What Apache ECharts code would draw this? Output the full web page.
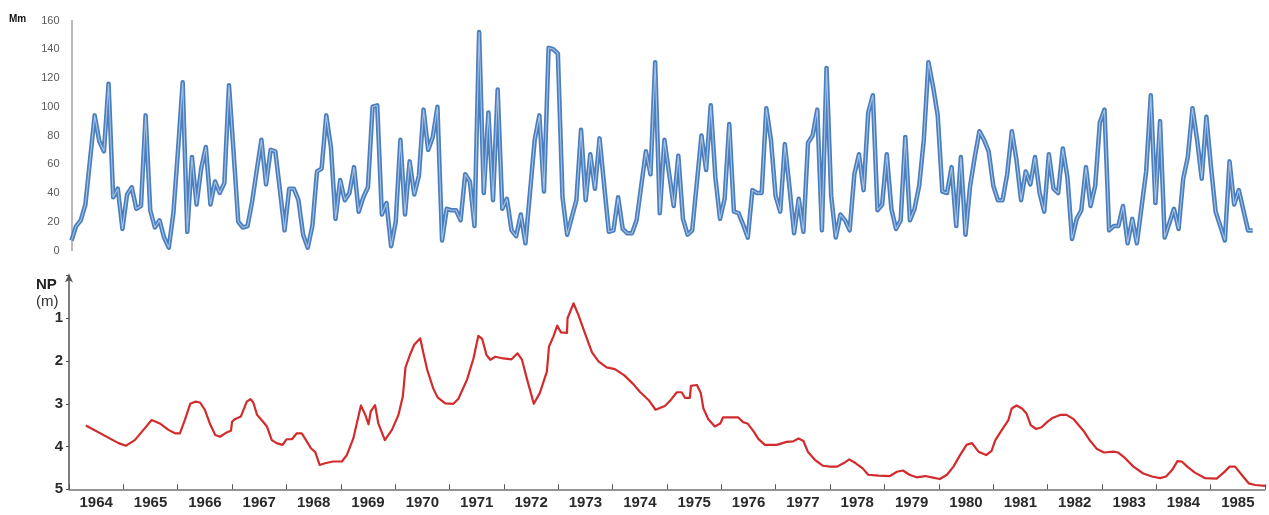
<!DOCTYPE html>
<html>
<head>
<meta charset="utf-8">
<script src="https://cdn.jsdelivr.net/npm/echarts@6/dist/echarts.min.js"></script>
<style>
  html, body { margin: 0; padding: 0; background: #fff; }
  #chart { width: 1269px; height: 515px; }
</style>
</head>
<body>
<div id="chart"></div>
<script>
// monthly rainfall (Mm), left to right
var rainMm = [
  7, 17, 21, 32, 63, 94, 76, 69, 116, 37,
  43, 15, 39, 44, 29, 31, 94, 28, 16, 21,
  9, 2, 26, 70, 117, 13, 65, 32, 57, 72, 32,
  48, 40, 47, 115, 68, 20, 16, 17, 34, 56,
  77, 46, 70, 69, 42, 14, 43, 43, 35, 11,
  2, 17, 55, 57, 94,
  72, 22, 49, 35, 40, 58, 27, 37, 44, 100,
  101, 25, 33, 3, 20, 77, 25, 62, 39, 52,
  98, 70, 79, 100, 7, 29, 28, 28, 21, 53,
  48, 17, 152, 40, 96, 35, 112, 29, 36, 14,
  10, 25, 5, 41, 77, 94, 41, 141, 140, 137,
  37, 11, 23, 35, 84, 35, 67, 43, 78, 45,
  13, 14, 37, 15, 12, 12, 21, 45, 69, 53,
  131, 26, 77, 54, 31, 66, 22, 11, 14, 47,
  80, 56, 101, 51, 22, 36, 88, 27, 26, 18,
  9, 42, 40, 40, 99, 77, 38, 27, 74, 44,
  12, 36, 13, 75, 80, 98, 14, 127, 38, 9,
  25, 21, 14, 53, 67, 42, 96, 108, 28, 32,
  67, 29, 15, 21, 79, 21, 29, 45, 77, 131,
  114, 94, 41, 40, 58, 17, 65, 11, 45, 65,
  83, 77, 69, 45, 35, 35, 53, 83, 63, 35,
  55, 46, 65, 40, 27, 67, 43, 40, 71, 51,
  8, 22, 28, 58, 31, 45, 89, 98, 14, 17,
  17, 31, 5, 22, 5, 30, 55, 108, 33, 90,
  9, 19, 29, 15, 50, 65, 99, 77, 50, 93,
  58, 27, 17, 7, 62, 32, 42, 28, 14, 14
];
var rainTicks = [0, 20, 40, 60, 80, 100, 120, 140, 160];

// piezometric level NP (m below surface), lower panel
var npYear = [
  1964.31, 1964.91, 1965.05, 1965.21, 1965.37, 1965.52, 1965.67, 1965.83, 1965.95, 1966.04,
  1966.13, 1966.23, 1966.32, 1966.41, 1966.50, 1966.59, 1966.69, 1966.78, 1966.90, 1966.98,
  1967.00, 1967.05, 1967.16, 1967.27, 1967.34, 1967.39, 1967.46, 1967.57, 1967.64, 1967.73,
  1967.82, 1967.93, 1968.00, 1968.10, 1968.19, 1968.28, 1968.36, 1968.45, 1968.53, 1968.61,
  1968.71, 1968.86, 1969.02, 1969.11, 1969.23, 1969.37, 1969.45, 1969.51, 1969.55, 1969.63,
  1969.69, 1969.81, 1969.94, 1970.06, 1970.14, 1970.19, 1970.27, 1970.35, 1970.46, 1970.52,
  1970.59, 1970.70, 1970.78, 1970.92, 1971.07, 1971.16, 1971.32, 1971.44, 1971.53, 1971.60,
  1971.68, 1971.75, 1971.84, 1971.99, 1972.14, 1972.25, 1972.33, 1972.42, 1972.55, 1972.66,
  1972.79, 1972.83, 1972.91, 1972.98, 1973.05, 1973.16, 1973.17, 1973.28, 1973.37, 1973.49,
  1973.62, 1973.74, 1973.89, 1974.04, 1974.21, 1974.38, 1974.50, 1974.66, 1974.79, 1974.96,
  1975.07, 1975.18, 1975.27, 1975.33, 1975.42, 1975.44, 1975.55, 1975.62, 1975.67, 1975.76,
  1975.88, 1975.98, 1976.03, 1976.16, 1976.31, 1976.40, 1976.48, 1976.59, 1976.68, 1976.80,
  1977.02, 1977.20, 1977.32, 1977.42, 1977.51, 1977.59, 1977.72, 1977.87, 1978.00, 1978.13,
  1978.26, 1978.35, 1978.46, 1978.60, 1978.70, 1978.89, 1979.10, 1979.23, 1979.34, 1979.46,
  1979.59, 1979.75, 1979.87, 1980.02, 1980.15, 1980.27, 1980.39, 1980.51, 1980.61, 1980.73,
  1980.87, 1980.97, 1981.04, 1981.16, 1981.28, 1981.34, 1981.43, 1981.53, 1981.61, 1981.69,
  1981.79, 1981.89, 1981.99, 1982.08, 1982.23, 1982.35, 1982.48, 1982.66, 1982.78, 1982.91,
  1983.04, 1983.21, 1983.30, 1983.40, 1983.58, 1983.76, 1983.92, 1984.07, 1984.18, 1984.29,
  1984.39, 1984.47, 1984.57, 1984.71, 1984.90, 1985.11, 1985.24, 1985.35, 1985.45, 1985.57,
  1985.70, 1985.82, 1986.00
];
var npDepth = [
  3.51, 3.92, 3.98, 3.85, 3.61, 3.38, 3.46, 3.61, 3.69, 3.69,
  3.38, 3.00, 2.95, 2.97, 3.14, 3.46, 3.73, 3.77, 3.67, 3.63,
  3.42, 3.36, 3.30, 2.95, 2.89, 2.97, 3.26, 3.42, 3.53, 3.85,
  3.92, 3.96, 3.83, 3.83, 3.69, 3.69, 3.85, 4.04, 4.13, 4.43,
  4.39, 4.35, 4.35, 4.20, 3.81, 3.04, 3.26, 3.48, 3.18, 3.03,
  3.46, 3.85, 3.61, 3.26, 2.83, 2.15, 1.86, 1.62, 1.47, 1.82,
  2.21, 2.64, 2.85, 2.99, 3.00, 2.89, 2.44, 1.94, 1.41, 1.48,
  1.86, 1.97, 1.90, 1.94, 1.96, 1.82, 1.96, 2.40, 3.00, 2.75,
  2.25, 1.66, 1.43, 1.17, 1.33, 1.34, 1.00, 0.65, 0.92, 1.35,
  1.80, 2.01, 2.15, 2.19, 2.33, 2.54, 2.72, 2.91, 3.14, 3.05,
  2.91, 2.73, 2.73, 2.86, 2.86, 2.58, 2.56, 2.74, 3.11, 3.36,
  3.53, 3.46, 3.32, 3.32, 3.32, 3.43, 3.46, 3.64, 3.82, 3.96,
  3.96, 3.89, 3.88, 3.81, 3.87, 4.12, 4.31, 4.45, 4.47, 4.47,
  4.38, 4.30, 4.38, 4.51, 4.66, 4.68, 4.69, 4.59, 4.56, 4.66,
  4.72, 4.69, 4.72, 4.76, 4.66, 4.47, 4.20, 3.96, 3.92, 4.12,
  4.20, 4.10, 3.85, 3.61, 3.38, 3.11, 3.04, 3.11, 3.22, 3.50,
  3.59, 3.55, 3.43, 3.34, 3.26, 3.26, 3.36, 3.63, 3.86, 4.06,
  4.14, 4.12, 4.14, 4.24, 4.47, 4.63, 4.70, 4.74, 4.70, 4.55,
  4.34, 4.35, 4.47, 4.61, 4.74, 4.75, 4.61, 4.47, 4.47, 4.66,
  4.86, 4.90, 4.92
];
var years = ['1964', '1965', '1966', '1967', '1968', '1969', '1970', '1971', '1972', '1973', '1974',
  '1975', '1976', '1977', '1978', '1979', '1980', '1981', '1982', '1983', '1984', '1985'];
var npTicks = [1, 2, 3, 4, 5];

var blue = '#4a7fbf';
var red = '#d22b2b';
var font = '"Liberation Sans", Arial, sans-serif';

var myChart = echarts.init(document.getElementById('chart'));
myChart.setOption({
  backgroundColor: '#fff',
  animation: false,
  grid: [
    { left: 71.5, right: 16.3, top: 20.5, bottom: 264.5 },
    { left: 69, right: 4, top: 275.5, bottom: 25.7 }
  ],
  graphic: [
    { type: 'text', left: 9, top: 14, style: { text: 'Mm', font: 'bold 10px ' + font, fill: '#111' } },
    { type: 'text', left: 36, top: 277, style: { text: 'NP', font: 'bold 15px ' + font, fill: '#222' } },
    { type: 'text', left: 36, top: 294, style: { text: '(m)', font: '15px ' + font, fill: '#333' } }
  ],
  xAxis: [
    {
      gridIndex: 0, type: 'category', boundaryGap: false,
      data: rainMm.map(function (v, i) { return i; }),
      show: false
    },
    {
      gridIndex: 1, type: 'value', min: 1964, max: 1986, interval: 1,
      position: 'bottom',
      axisLine: { show: true, onZero: false, lineStyle: { color: '#707070', width: 1.5 } },
      axisTick: { show: true, inside: true, length: 5, lineStyle: { color: '#555', width: 1 } },
      axisLabel: { show: false },
      splitLine: { show: false }
    },
    {
      gridIndex: 1, type: 'category', boundaryGap: true, data: years,
      position: 'bottom',
      axisLine: { show: false, onZero: false },
      axisTick: { show: false },
      axisLabel: { margin: 6, fontFamily: font, fontWeight: 'bold', fontSize: 15, color: '#2a2a2a' }
    }
  ],
  yAxis: [
    {
      gridIndex: 0, type: 'value', min: rainTicks[0], max: rainTicks[rainTicks.length - 1], interval: 20,
      axisLine: { show: true, lineStyle: { color: '#a5a5a5', width: 1.5 } },
      axisTick: { show: false },
      axisLabel: { margin: 12, fontFamily: font, fontSize: 11, color: '#595959' },
      splitLine: { show: false }
    },
    {
      gridIndex: 1, type: 'value', min: 0, max: 5, interval: 1, inverse: true,
      axisLine: {
        show: true, symbol: ['none', 'arrow'], symbolSize: [6, 9], symbolOffset: [0, 2],
        lineStyle: { color: '#555', width: 1.5 }
      },
      axisTick: { show: true, length: 3, lineStyle: { color: '#555' } },
      axisLabel: {
        margin: 6, fontFamily: font, fontWeight: 'bold', fontSize: 15, color: '#2a2a2a',
        formatter: function (v) { return npTicks.indexOf(v) >= 0 ? String(v) : ''; }
      },
      splitLine: { show: false }
    }
  ],
  series: [
    {
      name: 'rain', type: 'line', xAxisIndex: 0, yAxisIndex: 0,
      data: rainMm, symbol: 'none',
      lineStyle: { color: blue, width: 4.5, join: 'round' }
    },
    {
      name: 'rain-core', type: 'line', xAxisIndex: 0, yAxisIndex: 0,
      data: rainMm, symbol: 'none', silent: true,
      lineStyle: { color: '#dbe7f5', width: 1.1, opacity: 0.65 }
    },
    {
      name: 'NP', type: 'line', xAxisIndex: 1, yAxisIndex: 1,
      data: npYear.map(function (y, i) { return [y, npDepth[i]]; }),
      symbol: 'none',
      lineStyle: { color: red, width: 2.2, join: 'round' }
    }
  ]
});
</script>
</body>
</html>
